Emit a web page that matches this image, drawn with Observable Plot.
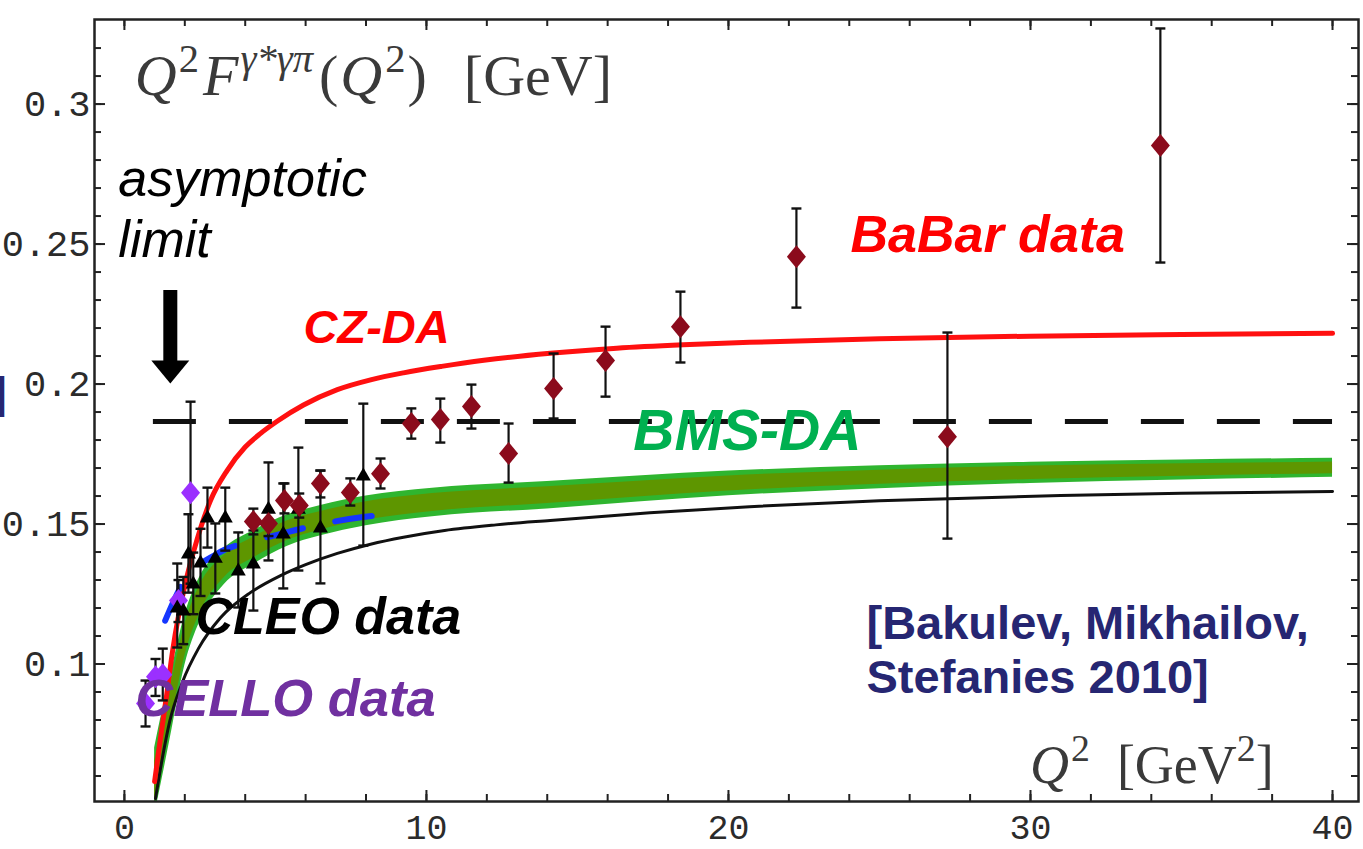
<!DOCTYPE html>
<html>
<head>
<meta charset="utf-8">
<script src="https://cdn.jsdelivr.net/npm/d3@7"></script>
<script src="https://cdn.jsdelivr.net/npm/@observablehq/plot@0.6"></script>
<style>
  html, body { margin: 0; padding: 0; background: #fff; }
  #chart { width: 1363px; height: 849px; overflow: hidden; }
</style>
</head>
<body>
<div id="chart"></div>
<script>
// ---- BaBar measurements: Q^2, Q^2 F(Q^2) and error range [GeV]
const babarQ2  = [4.27, 4.77, 5.30, 5.79, 6.49, 7.48, 8.48, 9.50, 10.46, 11.49, 12.72, 14.21, 15.93, 18.41, 22.25, 27.25, 34.30];
const babarVal = [0.1509, 0.1502, 0.1584, 0.1566, 0.1645, 0.1613, 0.1680, 0.1859, 0.1873, 0.1920, 0.1752, 0.1984, 0.2084, 0.2205, 0.2455, 0.1812, 0.2852];
const babarLo  = [0.1463, 0.1457, 0.1538, 0.1523, 0.1595, 0.1566, 0.1627, 0.1805, 0.1791, 0.1841, 0.1648, 0.1877, 0.1955, 0.2077, 0.2273, 0.1448, 0.2434];
const babarHi  = [0.1555, 0.1547, 0.1645, 0.1609, 0.1691, 0.1663, 0.1734, 0.1913, 0.1948, 0.1998, 0.1859, 0.2109, 0.2205, 0.2330, 0.2627, 0.2184, 0.3270];

// ---- CLEO measurements
const cleoQ2  = [1.75, 1.95, 2.12, 2.28, 2.52, 2.75, 3.01, 3.34, 3.77, 4.27, 4.77, 5.26, 5.76, 6.49, 7.91];
const cleoVal = [0.1202, 0.1191, 0.1395, 0.1288, 0.1363, 0.1523, 0.1380, 0.1523, 0.1334, 0.1359, 0.1555, 0.1466, 0.1555, 0.1488, 0.1673];
const cleoLo  = [0.1059, 0.1071, 0.1255, 0.1178, 0.1243, 0.1416, 0.1252, 0.1405, 0.1202, 0.1191, 0.1370, 0.1270, 0.1334, 0.1288, 0.1423];
const cleoHi  = [0.1359, 0.1311, 0.1535, 0.1398, 0.1483, 0.1630, 0.1502, 0.1630, 0.1470, 0.1477, 0.1720, 0.1645, 0.1773, 0.1691, 0.1930];

// ---- CELLO measurements
const celloQ2  = [0.70, 1.03, 1.27, 1.79, 2.19];
const celloVal = [0.0859, 0.0955, 0.0962, 0.1227, 0.1612];
const celloLo  = [0.0777, 0.0886, 0.0870, 0.1150, 0.1287];
const celloHi  = [0.0941, 0.1018, 0.1055, 0.1300, 0.1937];

// ---- CZ distribution amplitude prediction
const czQ2  = [1.0, 1.2, 1.4, 1.6, 2.0, 2.3, 2.85, 3.4, 4.0, 4.5, 5.07, 5.93, 7.05, 8.15, 9.24, 10.5, 11.9, 14.1, 16.3, 18.5, 20.7, 25, 30, 35, 40];
const czVal = [0.058, 0.074, 0.089, 0.105, 0.128, 0.1405, 0.1584, 0.1691, 0.1775, 0.1823, 0.1868, 0.1925, 0.1980, 0.2015, 0.2040, 0.2063, 0.2085, 0.2110, 0.2128, 0.2140, 0.2149, 0.2162, 0.2171, 0.2177, 0.2181];

// ---- BMS distribution amplitude band (outer and inner bounds)
const bmsQ2      = [1.0, 1.25, 1.5, 2.0, 2.5, 3.3, 4.3, 5.4, 6.5, 8.0, 10.2, 14, 20, 25, 30, 35, 40];
const bmsLow     = [0.046, 0.059, 0.0725, 0.0995, 0.1152, 0.1283, 0.1358, 0.1421, 0.1458, 0.1494, 0.1526, 0.1554, 0.1601, 0.1626, 0.1645, 0.1657, 0.1667];
const bmsHigh    = [0.070, 0.083, 0.0945, 0.1175, 0.1312, 0.1413, 0.1478, 0.1533, 0.1566, 0.1600, 0.1628, 0.1652, 0.1689, 0.1708, 0.1721, 0.1729, 0.1735];
const bmsInLow   = [0.0506, 0.0636, 0.0767, 0.1029, 0.1182, 0.1308, 0.1381, 0.1442, 0.1479, 0.1514, 0.1545, 0.1573, 0.1618, 0.1642, 0.1659, 0.1671, 0.1680];
const bmsInHigh  = [0.0654, 0.0784, 0.0903, 0.1141, 0.1282, 0.1388, 0.1455, 0.1512, 0.1545, 0.1580, 0.1609, 0.1633, 0.1672, 0.1692, 0.1707, 0.1715, 0.1722];

// ---- thin black prediction curve
const thinQ2  = [1.03, 1.25, 1.5, 1.92, 2.45, 3.18, 4.17, 5.17, 6.0, 7.05, 8.15, 9.24, 10.6, 12.3, 14.1, 17.4, 20.7, 25, 31, 35, 40];
const thinVal = [0.052, 0.066, 0.0795, 0.0935, 0.1055, 0.1165, 0.1255, 0.1316, 0.1355, 0.1395, 0.1428, 0.1453, 0.1477, 0.1497, 0.1513, 0.1540, 0.1562, 0.1583, 0.1602, 0.1610, 0.1616];

// ---- short blue dashed curve
const blueQ2  = [1.35, 1.85, 3.08, 4.34, 5.5, 6.75, 7.9, 9.04];
const blueVal = [0.1155, 0.1273, 0.1395, 0.1441, 0.1474, 0.1505, 0.1525, 0.1538];

// ---- asymptotic limit and its arrow
const asymptote = 0.1866;
const arrowQ2 = 1.52, arrowTop = 0.2334, arrowBase = 0.2077, arrowTip = 0.2002;

// ---- axis ticks
const xTickValues = [0, 10, 20, 30, 40];
const xTickLabels = ["0", "10", "20", "30", "40"];
const yTickValues = [0.1, 0.15, 0.2, 0.25, 0.3];
const yTickLabels = ["0.1", "0.15", "0.2", "0.25", "0.3"];
const xMinor = d3.range(0, 41, 2);
const yMinor = d3.range(6, 33).map(k => k / 100);

// tables
const rows = (q, v, lo, hi) => q.map((x, i) => ({q: x, v: v[i], lo: lo[i], hi: hi[i]}));
const babar = rows(babarQ2, babarVal, babarLo, babarHi);
const cleo  = rows(cleoQ2, cleoVal, cleoLo, cleoHi);
const cello = rows(celloQ2, celloVal, celloLo, celloHi);
const cz    = czQ2.map((q, i) => ({q, v: czVal[i]}));
const thin  = thinQ2.map((q, i) => ({q, v: thinVal[i]}));
const blue  = blueQ2.map((q, i) => ({q, v: blueVal[i]}));
const bms   = bmsQ2.map((q, i) => ({q, lo: bmsLow[i], hi: bmsHigh[i], ilo: bmsInLow[i], ihi: bmsInHigh[i]}));

// marker shapes
const diamondSym  = {draw(c) { c.moveTo(0, -11.5); c.lineTo(9.5, 0); c.lineTo(0, 11.5); c.lineTo(-9.5, 0); c.closePath(); }};
const triangleSym = {draw(c) { c.moveTo(0, -8); c.lineTo(7.5, 5); c.lineTo(-7.5, 5); c.closePath(); }};
const capSym      = {draw(c) { c.moveTo(-5, 0); c.lineTo(5, 0); }};
const headSym     = {draw(c) { c.moveTo(-19, -23); c.lineTo(19, -23); c.lineTo(0, 0); c.closePath(); }};

const W = 1363, H = 849;
const mT = 19, mR = 5, mB = 48, mL = 94;
const fw = W - mL - mR, fh = H - mT - mB;
const sans = "Liberation Sans, Arial, sans-serif";
const mono = "Liberation Mono, Courier New, monospace";
const ink = "#222";

const errorBars = (data) => [
  Plot.ruleX(data, {x: "q", y1: "lo", y2: "hi", stroke: "#111", strokeWidth: 2.2}),
  Plot.dot(data, {x: "q", y: "lo", symbol: capSym, r: 1, fill: "none", stroke: "#111", strokeWidth: 2.4}),
  Plot.dot(data, {x: "q", y: "hi", symbol: capSym, r: 1, fill: "none", stroke: "#111", strokeWidth: 2.4})
];

const label = (text, x, y, fill, size, extra = {}) =>
  Plot.text([0], {x: () => x, y: () => y, text: () => text, fill, fontSize: size,
    fontFamily: sans, fontWeight: "bold", fontStyle: "italic", textAnchor: "start", lineAnchor: "bottom", ...extra});

const plot = Plot.plot({
  width: W, height: H,
  marginTop: mT, marginRight: mR, marginBottom: mB, marginLeft: mL,
  x: {domain: [-0.99, 40.86], axis: null},
  y: {domain: [0.0509, 0.3302], axis: null},
  style: {background: "#fff", overflow: "visible"},
  marks: [
    // inward ticks on all four sides
    Plot.tickX(xMinor, {x: d => d, insetTop: fh - 7, stroke: ink, strokeWidth: 2}),
    Plot.tickX(xMinor, {x: d => d, insetBottom: fh - 7, stroke: ink, strokeWidth: 2}),
    Plot.tickX(xTickValues, {x: d => d, insetTop: fh - 11, stroke: ink, strokeWidth: 2}),
    Plot.tickX(xTickValues, {x: d => d, insetBottom: fh - 11, stroke: ink, strokeWidth: 2}),
    Plot.tickY(yMinor, {y: d => d, insetRight: fw - 7, stroke: ink, strokeWidth: 2}),
    Plot.tickY(yMinor, {y: d => d, insetLeft: fw - 7, stroke: ink, strokeWidth: 2}),
    Plot.tickY(yTickValues, {y: d => d, insetRight: fw - 11, stroke: ink, strokeWidth: 2}),
    Plot.tickY(yTickValues, {y: d => d, insetLeft: fw - 11, stroke: ink, strokeWidth: 2}),

    // tick labels
    Plot.text(xTickValues, {x: d => d, text: (d, i) => xTickLabels[i], frameAnchor: "bottom", dy: 26,
      lineAnchor: "middle", fontFamily: mono, fontSize: 35, fill: "#2b2b2b"}),
    Plot.text(yTickValues, {y: d => d, text: (d, i) => yTickLabels[i], frameAnchor: "left", dx: -4,
      textAnchor: "end", lineAnchor: "middle", fontFamily: mono, fontSize: 37, fill: "#2b2b2b"}),

    // BMS band
    Plot.areaY(bms, {x: "q", y1: "lo", y2: "hi", fill: "#2fb52f", curve: "monotone-x", clip: true}),
    Plot.areaY(bms, {x: "q", y1: "ilo", y2: "ihi", fill: "#5e9600", curve: "monotone-x", clip: true}),

    // prediction curves
    Plot.line(thin, {x: "q", y: "v", stroke: "#111", strokeWidth: 3, curve: "monotone-x", clip: true}),
    Plot.line(cz, {x: "q", y: "v", stroke: "#ff1010", strokeWidth: 5, curve: "monotone-x", clip: true}),
    Plot.ruleY([asymptote], {y: d => d, x1: 0.96, x2: 40, stroke: "#111", strokeWidth: 5, strokeDasharray: "43,33"}),
    Plot.line(blue, {x: "q", y: "v", stroke: "#1536ff", strokeWidth: 6, strokeDasharray: "37,33", curve: "monotone-x"}),

    // data with error bars
    ...errorBars(cello),
    ...errorBars(cleo),
    ...errorBars(babar),
    Plot.dot(cello, {x: "q", y: "v", symbol: diamondSym, r: 1, fill: "#9b30ff"}),
    Plot.dot(cleo, {x: "q", y: "v", symbol: triangleSym, r: 1, fill: "#000"}),
    Plot.dot(babar, {x: "q", y: "v", symbol: diamondSym, r: 1, fill: "#8b0b1c"}),

    // asymptotic-limit arrow
    Plot.ruleX([arrowQ2], {x: d => d, y1: arrowTop, y2: arrowBase, stroke: "#000", strokeWidth: 14}),
    Plot.dot([arrowQ2], {x: d => d, y: arrowTip, symbol: headSym, r: 1, fill: "#000"}),

    // annotations
    label("asymptotic", -0.2, 0.2673, "#000", 52, {fontWeight: "normal"}),
    label("limit", -0.2, 0.2452, "#000", 52, {fontWeight: "normal"}),
    label("CZ-DA", 5.93, 0.2145, "#ff0000", 47),
    label("BMS-DA", 16.85, 0.1763, "#00b050", 57),
    label("BaBar data", 24.04, 0.2470, "#ff0000", 52),
    label("CLEO data", 2.35, 0.1109, "#000", 52),
    label("CELLO data", 0.36, 0.0813, "#7030a0", 52.5),
    label("[Bakulev, Mikhailov,", 24.57, 0.1091, "#262672", 47, {fontStyle: "normal"}),
    label("Stefanies 2010]", 24.57, 0.0895, "#262672", 47, {fontStyle: "normal"}),
    label("]", -3.9, 0.1966, "#262672", 44, {fontStyle: "normal", textAnchor: "end", lineAnchor: "middle"}),

    Plot.frame({stroke: ink, strokeWidth: 2.5})
  ]
});

// typeset labels with superscripts (serif, TeX-like)
const sx = plot.scale("x"), sy = plot.scale("y");
function typeset(x, y, parts, size, fill) {
  const t = d3.select(plot).append("text")
    .attr("x", sx.apply(x)).attr("y", sy.apply(y))
    .attr("text-anchor", "start")
    .attr("font-family", "Liberation Serif, Times New Roman, serif")
    .attr("font-size", size).attr("fill", fill);
  const rise = 0.4 * size;
  let up = false;
  for (const p of parts) {
    const s = t.append("tspan").text(p.t);
    if (p.i) s.attr("font-style", "italic");
    if (p.dx) s.attr("dx", p.dx);
    if (p.sup && !up) { s.attr("dy", -rise).attr("font-size", size * 0.7); up = true; }
    else if (p.sup) { s.attr("font-size", size * 0.7); }
    else if (up) { s.attr("dy", rise); up = false; }
  }
}
typeset(0.36, 0.3030, [
  {t: "Q", i: true}, {t: "2", sup: true, dx: 2}, {t: "F", i: true, dx: 4}, {t: "\u03B3*\u03B3\u03C0", i: true, sup: true, dx: 2},
  {t: "(", dx: 6}, {t: "Q", i: true, dx: 2}, {t: "2", sup: true, dx: 3}, {t: ")", dx: 2}, {t: "\u2002[GeV]", dx: 8}
], 58, "#3a3a3a");
typeset(30.0, 0.0573, [
  {t: "Q", i: true}, {t: "2", sup: true, dx: 2}, {t: "\u2002[GeV"}, {t: "2", sup: true}, {t: "]"}
], 54, "#3a3a3a");

document.getElementById("chart").appendChild(plot);
</script>
</body>
</html>
